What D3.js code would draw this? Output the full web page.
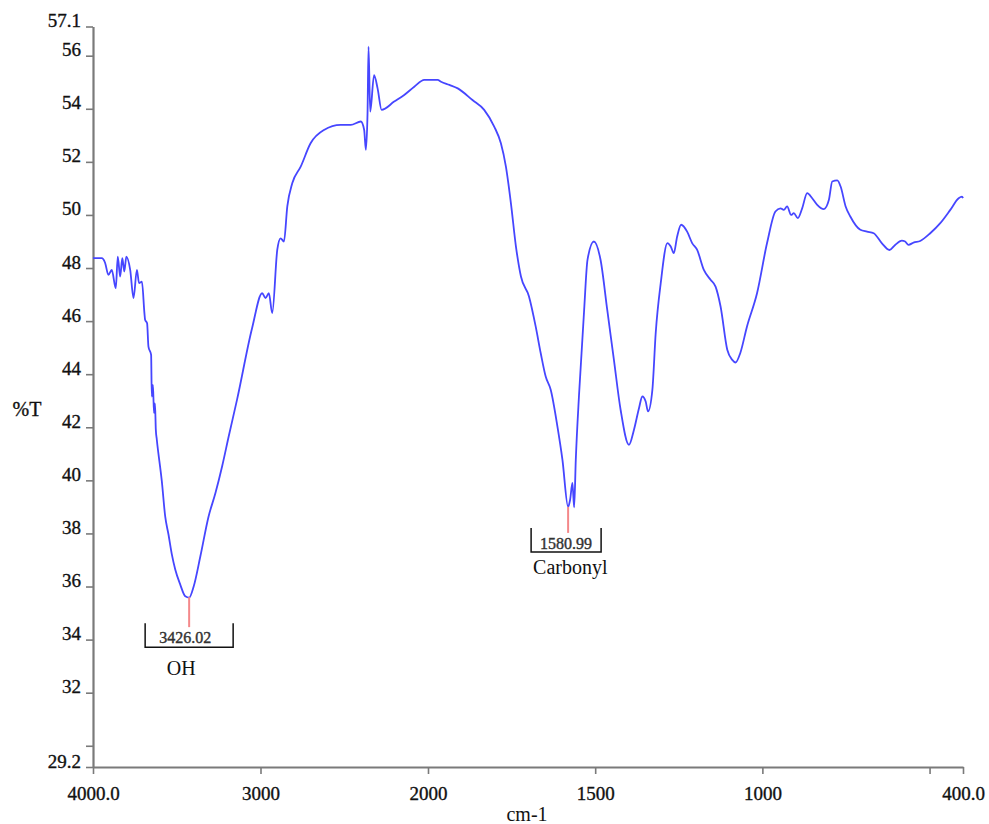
<!DOCTYPE html>
<html>
<head>
<meta charset="utf-8">
<script src="https://cdn.jsdelivr.net/npm/d3@7/dist/d3.min.js"></script>
<style>
  html, body { margin: 0; padding: 0; background: #fff; }
  svg { display: block; }
  .axis path, .axis line { stroke: #7a7a7a; }
  .axis text { font-family: "Liberation Serif", "Times New Roman", serif; fill: #111; stroke: #111; stroke-width: 0.35px; }
</style>
</head>
<body>
<svg id="chart" width="989" height="824"></svg>
<script>
// FTIR spectrum
const wavenumbers = [
  4000, 3948, 3928, 3908, 3888, 3864, 3852, 3838, 3825, 3813, 3801, 3778, 3758, 3738, 3725, 3708,
  3693, 3689, 3677, 3669, 3653, 3649, 3642, 3636, 3630, 3625, 3619, 3589, 3569, 3549, 3529, 3509,
  3479, 3449, 3426, 3399, 3359, 3310, 3269, 3229, 3190, 3140, 3050, 2990, 2970, 2950, 2930, 2900,
  2880, 2860, 2840, 2810, 2760, 2701, 2621, 2521, 2461, 2401, 2381, 2371, 2361, 2355, 2345, 2322,
  2301, 2277, 2202, 2142, 2082, 2022, 1971, 1961, 1936, 1911, 1867, 1832, 1802, 1782, 1767, 1752,
  1737, 1722, 1698, 1678, 1663, 1648, 1633, 1613, 1598, 1581, 1575, 1568, 1563, 1558, 1548, 1533,
  1523, 1504, 1484, 1464, 1444, 1424, 1399, 1384, 1369, 1359, 1349, 1342, 1329, 1319, 1304, 1284,
  1274, 1265, 1255, 1243, 1225, 1210, 1195, 1175, 1155, 1140, 1125, 1105, 1090, 1080, 1066, 1046,
  1016, 986, 961, 946, 936, 926, 914, 906, 894, 881, 866, 851, 836, 816, 801, 791,
  776, 766, 751, 737, 707, 687, 667, 643, 620, 603, 583, 573, 563, 548, 528, 498,
  468, 438, 413, 403, 400
];
const transmittance = [
  48.37, 48.37, 48.20, 47.74, 47.93, 47.24, 48.43, 47.68, 48.37, 47.87, 48.43, 47.93, 46.87, 47.93, 47.43, 47.49,
  46.30, 46.05, 45.92, 45.04, 44.73, 43.16, 43.60, 42.54, 42.90, 41.91, 41.53, 39.96, 38.64, 37.95, 37.20, 36.64,
  36.07, 35.63, 35.58, 36.00, 37.14, 38.64, 39.52, 40.53, 41.65, 43.04, 45.74, 47.05, 46.87, 47.05, 46.30, 48.68,
  49.12, 49.00, 50.32, 51.20, 51.82, 52.70, 53.20, 53.39, 53.39, 53.52, 53.20, 52.45, 53.83, 56.34, 53.89, 55.27,
  54.77, 53.96, 54.27, 54.52, 54.83, 55.09, 55.09, 55.02, 54.90, 54.77, 54.33, 53.96, 53.33, 52.70, 51.82, 50.44,
  48.81, 47.68, 46.93, 45.80, 44.80, 43.91, 43.41, 42.03, 40.78, 39.00, 39.27, 39.90, 38.98, 40.78, 43.29, 46.43,
  48.31, 49.00, 48.31, 46.43, 44.54, 42.66, 41.34, 41.91, 42.72, 43.16, 42.97, 42.60, 43.41, 45.55, 47.43, 48.94,
  48.81, 48.56, 49.18, 49.63, 49.37, 48.94, 48.68, 47.93, 47.56, 47.30, 46.55, 44.92, 44.54, 44.44, 44.80, 45.80,
  47.05, 48.94, 50.13, 50.25, 50.19, 50.32, 50.00, 50.07, 49.88, 50.25, 50.82, 50.63, 50.38, 50.22, 50.57, 51.26,
  51.30, 51.07, 50.32, 49.94, 49.44, 49.37, 49.31, 48.94, 48.68, 48.87, 49.03, 49.00, 48.87, 48.96, 49.02, 49.31,
  49.69, 50.19, 50.63, 50.69, 50.63
];

const xTicks = [4000, 3000, 2000, 1500, 1000, 500, 400];
const yTicks = [57.1, 56, 54, 52, 50, 48, 46, 44, 42, 40, 38, 36, 34, 32, 30, 29.2];

// marked peaks
const peakWn = [3426.02, 1580.99];
const peakT = [35.6, 39.0];
const peakNames = ["OH", "Carbonyl"];

// label layout for each peak (pixel offsets from the peak)
const peakLayout = [
  { stem: 30, left: 44, right: 44, top: 26, bottom: 50, numDx: -4, numDy: 46, nameDx: -8, nameDy: 78, nameAnchor: "middle" },
  { stem: 26, left: 37, right: 33, top: 21, bottom: 45, numDx: -2, numDy: 42, nameDx: -35, nameDy: 67, nameAnchor: "start" }
];

const svg = d3.select("#chart");

// the instrument plots 4000-2000 at half the scale of 2000-400
const x = d3.scaleLinear().domain([4000, 2000, 400]).range([93, 428, 963]);
const y = d3.scaleLinear().domain([29.2, 57.1]).range([767, 26.5]);

const xAxis = d3.axisBottom(x)
  .tickValues(xTicks)
  .tickSize(7)
  .tickPadding(13)
  .tickSizeOuter(0)
  .tickFormat(d => d == 4000 || d == 400 ? d.toFixed(1) : (d == 500 ? "" : String(d)));

const yAxis = d3.axisLeft(y)
  .tickValues(yTicks)
  .tickSize(7)
  .tickPadding(5)
  .tickSizeOuter(0)
  .tickFormat(d => d == 30 ? "" : String(d));

const gx = svg.append("g")
  .attr("class", "axis")
  .attr("transform", "translate(0,767)")
  .call(xAxis);
gx.select(".domain").attr("stroke-width", 2.2);
gx.selectAll(".tick line").attr("stroke-width", 1.6);
gx.selectAll("text").style("font-size", "19px");

const gy = svg.append("g")
  .attr("class", "axis")
  .attr("transform", "translate(93,0)")
  .call(yAxis);
gy.select(".domain").attr("stroke-width", 2.2);
gy.selectAll(".tick line").attr("stroke-width", 1.6);
gy.selectAll("text").style("font-size", "19px").attr("dy", "0");

// axis titles
svg.append("text")
  .attr("x", 527).attr("y", 821)
  .attr("text-anchor", "middle")
  .style("font-family", "Liberation Serif, serif")
  .style("font-size", "20px")
  .attr("fill", "#111")
  .text("cm-1");

svg.append("text")
  .attr("x", 27).attr("y", 416)
  .attr("text-anchor", "middle")
  .style("font-family", "Liberation Serif, serif")
  .style("font-size", "20px")
  .attr("fill", "#111")
  .attr("stroke", "#111")
  .attr("stroke-width", 0.35)
  .text("%T");

// spectrum
const points = wavenumbers.map((w, i) => [w, transmittance[i]]);
const line = d3.line()
  .curve(d3.curveMonotoneX)
  .x(d => x(d[0]))
  .y(d => y(d[1]));

svg.append("path")
  .datum(points)
  .attr("fill", "none")
  .attr("stroke", "#4646ff")
  .attr("stroke-width", 1.8)
  .attr("stroke-linejoin", "round")
  .attr("d", line);

// peak markers
peakWn.forEach((w, i) => {
  const px = x(w), py = y(peakT[i]);
  const L = peakLayout[i];
  const g = svg.append("g");

  g.append("line")
    .attr("x1", px).attr("x2", px)
    .attr("y1", py).attr("y2", py + L.stem)
    .attr("stroke", "#f4888a")
    .attr("stroke-width", 2);

  g.append("path")
    .attr("d", "M" + (px - L.left) + "," + (py + L.top) +
               "V" + (py + L.bottom) +
               "H" + (px + L.right) +
               "V" + (py + L.top))
    .attr("fill", "none")
    .attr("stroke", "#111")
    .attr("stroke-width", 1.5);

  g.append("text")
    .attr("x", px + L.numDx).attr("y", py + L.numDy)
    .attr("text-anchor", "middle")
    .style("font-family", "Liberation Serif, serif")
    .style("font-size", "16px")
    .attr("fill", "#333")
    .attr("stroke", "#333")
    .attr("stroke-width", 0.4)
    .text(w.toFixed(2));

  g.append("text")
    .attr("x", px + L.nameDx).attr("y", py + L.nameDy)
    .attr("text-anchor", L.nameAnchor)
    .style("font-family", "Liberation Serif, serif")
    .style("font-size", "20px")
    .attr("fill", "#111")
    .text(peakNames[i]);
});
</script>
</body>
</html>
